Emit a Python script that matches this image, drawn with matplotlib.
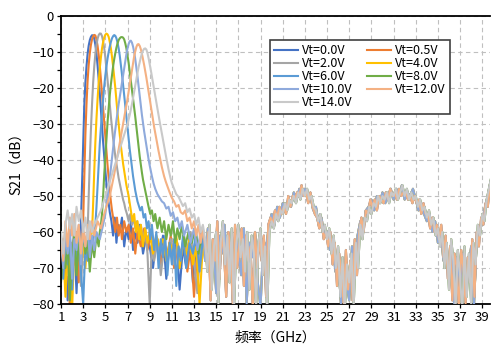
import numpy as np
import matplotlib
matplotlib.use('Agg')
import matplotlib.pyplot as plt
from matplotlib.ticker import MultipleLocator

plt.rcParams['font.family'] = ['Noto Sans CJK SC', 'DejaVu Sans']

# ---- data: (frequency GHz, S21 dB) ----
vt00 = [(1.0,-64),(1.2,-72),(1.4,-61),(1.6,-79),(1.8,-66),(2.0,-70),(2.2,-62),(2.4,-77),(2.6,-63),(2.7,-68),
        (2.8,-57),(2.9,-45),(3.0,-34),(3.1,-25),(3.2,-18.5),(3.3,-14),(3.4,-10.5),(3.5,-8.2),(3.6,-6.7),(3.7,-5.8),
        (3.8,-5.35),(3.9,-5.4),(4.0,-6.3),(4.1,-8),(4.2,-10.5),(4.3,-13.8),(4.4,-17.5),(4.5,-21.5),(4.6,-26),(4.7,-30.5),
        (4.8,-35),(4.9,-39),(5.0,-43),(5.1,-46.5),(5.2,-50),(5.3,-52),(5.4,-54.5),(5.55,-57),(5.7,-61),(5.85,-56),
        (6.0,-63),(6.15,-58),(6.3,-60),(6.5,-56),(6.7,-64),(6.9,-59),(7.1,-62),(7.3,-57),(7.5,-65),(7.7,-60),
        (7.9,-63),(8.1,-58),(8.4,-66),(8.7,-61),(9.0,-64),(9.3,-70),(9.6,-62),(9.9,-67),(10.2,-61),(10.5,-73),
        (10.8,-63),(11.1,-68),(11.4,-62),(11.7,-76),(12.0,-64),(12.3,-70),(12.6,-61),(12.9,-74),(13.2,-63),(13.5,-68),
        (13.8,-60)]
vt05 = [(1.0,-70),(1.2,-62),(1.4,-76),(1.6,-65),(1.8,-81),(2.0,-63),(2.2,-69),(2.4,-60),(2.6,-74),(2.8,-64),
        (2.9,-67),(3.0,-57),(3.1,-45),(3.2,-33),(3.3,-24.5),(3.4,-18),(3.5,-13.5),(3.6,-10.3),(3.7,-8),(3.8,-6.5),
        (3.9,-5.6),(4.0,-5.25),(4.1,-5.4),(4.2,-6.5),(4.3,-8.3),(4.4,-10.8),(4.5,-13.8),(4.6,-17.5),(4.7,-21.5),(4.8,-25.5),
        (4.9,-29.5),(5.0,-33.5),(5.1,-37.5),(5.2,-41.5),(5.3,-45),(5.4,-48.5),(5.5,-51.5),(5.6,-54),(5.75,-57),(5.9,-60),
        (6.05,-56),(6.2,-61),(6.35,-58),(6.5,-62),(6.7,-57),(6.9,-60),(7.1,-58),(7.3,-63),(7.5,-59),(7.7,-66),
        (7.9,-60),(8.2,-64),(8.5,-59),(8.8,-65),(9.1,-61),(9.4,-67),(9.7,-62),(10.0,-69),(10.3,-63),(10.6,-66),
        (10.9,-61),(11.2,-70),(11.5,-64),(11.8,-67),(12.1,-62),(12.4,-71),(12.7,-64),(13.0,-78),(13.3,-65),(13.6,-69),
        (13.9,-61)]
vt20 = [(1.0,-61),(1.2,-67),(1.4,-59),(1.6,-72),(1.8,-62),(2.0,-66),(2.2,-58),(2.4,-70),(2.6,-61),(2.8,-75),
        (3.0,-63),(3.2,-66),(3.3,-62),(3.4,-60),(3.5,-50),(3.6,-40),(3.7,-31.5),(3.8,-24.5),(3.9,-18.5),(4.0,-14),
        (4.1,-10.5),(4.2,-8),(4.3,-6.3),(4.4,-5.3),(4.5,-4.85),(4.6,-4.9),(4.7,-5.6),(4.8,-7),(4.9,-9),(5.0,-11.5),
        (5.1,-14.5),(5.2,-17.8),(5.3,-21),(5.4,-24.5),(5.5,-28),(5.6,-31),(5.7,-34),(5.8,-36.5),(5.9,-39),(6.0,-41),
        (6.1,-43),(6.2,-45),(6.3,-46.5),(6.4,-48),(6.5,-49.5),(6.6,-51),(6.7,-52),(6.8,-53.5),(6.95,-55),(7.1,-57),
        (7.25,-55),(7.4,-58),(7.55,-56),(7.7,-59),(7.85,-57),(8.0,-60),(8.2,-58),(8.4,-62),(8.6,-59),(8.8,-66),
        (9.0,-80),(9.2,-63),(9.4,-68),(9.7,-62),(10.0,-72),(10.3,-64),(10.6,-67),(10.9,-62),(11.2,-69),(11.5,-63),
        (11.8,-66),(12.1,-61),(12.4,-65),(12.7,-60),(13.0,-68),(13.3,-77),(13.6,-64),(13.9,-66)]
vt40 = [(1.0,-72),(1.2,-64),(1.4,-78),(1.6,-66),(1.8,-71),(2.0,-82),(2.2,-63),(2.4,-69),(2.6,-60),(2.8,-67),
        (3.0,-61),(3.2,-70),(3.4,-62),(3.6,-65),(3.7,-61),(3.8,-60),(3.9,-52),(4.0,-43),(4.1,-35),(4.2,-28.5),
        (4.3,-23),(4.4,-18.5),(4.5,-14.5),(4.6,-11.5),(4.7,-9),(4.8,-7.2),(4.9,-6),(5.0,-5.2),(5.1,-4.9),(5.2,-5.1),
        (5.3,-5.8),(5.4,-7.2),(5.5,-9),(5.6,-11.3),(5.7,-14),(5.8,-17),(5.9,-20),(6.0,-23.5),(6.1,-27),(6.2,-30),
        (6.3,-33),(6.4,-36),(6.5,-38.5),(6.6,-41),(6.7,-43),(6.8,-45),(6.9,-47),(7.0,-48.5),(7.1,-50),(7.2,-52),
        (7.3,-54),(7.45,-57),(7.6,-55),(7.75,-60),(7.9,-57),(8.05,-62),(8.2,-58),(8.4,-64),(8.6,-59),(8.8,-63),
        (9.0,-60),(9.3,-66),(9.6,-61),(9.9,-64),(10.2,-62),(10.5,-68),(10.8,-63),(11.1,-65),(11.4,-61),(11.7,-70),
        (12.0,-63),(12.3,-66),(12.6,-62),(12.9,-69),(13.2,-64),(13.5,-80),(13.8,-63)]
vt60 = [(1.0,-66),(1.2,-73),(1.4,-63),(1.6,-69),(1.8,-61),(2.0,-76),(2.2,-64),(2.4,-67),(2.6,-60),(2.8,-71),
        (3.0,-80),(3.2,-64),(3.4,-68),(3.6,-61),(3.8,-65),(4.0,-60),(4.1,-58),(4.2,-53),(4.3,-47),(4.4,-41),
        (4.5,-35.5),(4.6,-31),(4.7,-27),(4.8,-23),(4.9,-19.5),(5.0,-16.5),(5.1,-14),(5.2,-11.8),(5.3,-10),(5.4,-8.5),
        (5.5,-7.2),(5.6,-6.2),(5.7,-5.6),(5.8,-5.3),(5.9,-5.5),(6.0,-6.2),(6.1,-7.4),(6.2,-9),(6.3,-11),(6.4,-13.5),
        (6.5,-16.2),(6.6,-19),(6.7,-22),(6.8,-25),(6.9,-28),(7.0,-31),(7.1,-34),(7.2,-37),(7.3,-39.5),(7.4,-42),
        (7.5,-44.5),(7.6,-46.5),(7.7,-48.5),(7.8,-50),(7.9,-51.5),(8.0,-52.5),(8.15,-54),(8.3,-53),(8.45,-56),(8.6,-55),
        (8.75,-59),(8.9,-57),(9.05,-62),(9.2,-58),(9.4,-65),(9.6,-60),(9.8,-70),(10.0,-62),(10.2,-67),(10.4,-61),
        (10.6,-72),(10.8,-63),(11.0,-69),(11.2,-62),(11.4,-75),(11.6,-64),(11.8,-68),(12.0,-61),(12.3,-70),(12.6,-63),
        (12.9,-66),(13.2,-60),(13.5,-71),(13.8,-62)]
vt80 = [(1.0,-74),(1.2,-65),(1.4,-70),(1.6,-62),(1.8,-79),(2.0,-66),(2.2,-61),(2.4,-72),(2.6,-63),(2.8,-68),
        (3.0,-60),(3.2,-66),(3.4,-62),(3.6,-71),(3.8,-63),(4.0,-67),(4.2,-61),(4.4,-64),(4.5,-60),(4.6,-58),
        (4.7,-55),(4.8,-50),(4.9,-44),(5.0,-39),(5.1,-34),(5.2,-29.5),(5.3,-25.5),(5.4,-22),(5.5,-19),(5.6,-16.5),
        (5.7,-14),(5.8,-12),(5.9,-10.3),(6.0,-8.8),(6.1,-7.6),(6.2,-6.7),(6.3,-6.2),(6.4,-5.9),(6.5,-5.85),(6.6,-6),
        (6.7,-6.5),(6.8,-7.6),(6.9,-9),(7.0,-11),(7.1,-13),(7.2,-15.5),(7.3,-18),(7.4,-20.5),(7.5,-23),(7.6,-25.5),
        (7.7,-28),(7.8,-30.8),(7.9,-33.5),(8.0,-36.3),(8.1,-39),(8.2,-41.3),(8.3,-43.5),(8.4,-45.5),(8.5,-47),(8.6,-48.5),
        (8.7,-50),(8.8,-51.5),(8.9,-53),(9.05,-55),(9.2,-54),(9.35,-57),(9.5,-55),(9.7,-59),(9.9,-56),(10.1,-60),
        (10.3,-57),(10.5,-62),(10.7,-58),(10.9,-61),(11.1,-57),(11.3,-63),(11.5,-59),(11.7,-62),(11.9,-58),(12.2,-64),
        (12.5,-60),(12.8,-63),(13.1,-59),(13.4,-66),(13.7,-61)]
vt100 = [(1.0,-63),(1.2,-70),(1.4,-61),(1.6,-66),(1.8,-59),(2.0,-73),(2.2,-62),(2.4,-65),(2.6,-58),(2.8,-69),
         (3.0,-60),(3.2,-64),(3.4,-59),(3.6,-67),(3.8,-61),(4.0,-65),(4.2,-60),(4.5,-62),(4.8,-58),(5.0,-55),
         (5.2,-50),(5.4,-45),(5.6,-39.5),(5.8,-34),(6.0,-29),(6.2,-24.5),(6.4,-20.5),(6.6,-16.5),(6.7,-14.5),(6.8,-12.5),
         (6.9,-10.6),(7.0,-9),(7.1,-7.8),(7.2,-7),(7.3,-6.85),(7.4,-7.4),(7.5,-8.5),(7.6,-10),(7.7,-12),(7.8,-14.3),
         (7.9,-16.8),(8.0,-19.5),(8.1,-22.2),(8.2,-25),(8.3,-27.5),(8.4,-29.8),(8.5,-32),(8.6,-34),(8.7,-36),(8.8,-38),
         (8.9,-39.8),(9.0,-41.5),(9.1,-43),(9.2,-44.5),(9.35,-46.5),(9.5,-48),(9.7,-49.5),(9.9,-50.5),(10.1,-51.5),(10.3,-52),
         (10.5,-53.5),(10.7,-53),(10.9,-55.5),(11.1,-54.5),(11.3,-57),(11.5,-56),(11.7,-59),(11.9,-57),(12.1,-61),(12.4,-58),
         (12.7,-63),(13.0,-59),(13.3,-65),(13.6,-60),(13.9,-62)]
vt120 = [(1.0,-62),(1.2,-68),(1.4,-57),(1.6,-64),(1.8,-56),(2.0,-61),(2.2,-55),(2.4,-63),(2.6,-58),(2.8,-66),
         (3.0,-59),(3.2,-64),(3.4,-58),(3.6,-62),(3.8,-57),(4.0,-61),(4.3,-57),(4.6,-59),(4.9,-55),(5.2,-52),
         (5.4,-50),(5.6,-47),(5.8,-44),(6.0,-40.5),(6.2,-37),(6.4,-33.5),(6.6,-30),(6.8,-26.5),(7.0,-23),(7.1,-21),
         (7.2,-19),(7.3,-17),(7.4,-15),(7.5,-13),(7.6,-11.2),(7.7,-9.8),(7.8,-8.6),(7.9,-7.9),(8.0,-7.8),(8.1,-8.3),
         (8.2,-9.2),(8.3,-10.5),(8.4,-12),(8.5,-13.6),(8.6,-15.3),(8.7,-17.1),(8.8,-19),(8.9,-21),(9.0,-23),(9.1,-25),
         (9.2,-27),(9.3,-29),(9.4,-30.8),(9.5,-32.5),(9.6,-34.3),(9.7,-36),(9.8,-37.5),(9.9,-39),(10.0,-40.5),(10.1,-42),
         (10.2,-43.3),(10.3,-44.5),(10.45,-46),(10.6,-47.3),(10.8,-49),(11.0,-50.5),(11.2,-51.5),(11.4,-53),(11.6,-52.5),(11.8,-54.5),
         (12.0,-55),(12.2,-54),(12.4,-57),(12.6,-56),(12.8,-59),(13.0,-57),(13.2,-61),(13.4,-58),(13.6,-63),(13.8,-59)]
vt140 = [(1.0,-60),(1.2,-66),(1.4,-58),(1.6,-54),(1.8,-59),(2.0,-55),(2.2,-61),(2.4,-53),(2.6,-57),(2.8,-54),
         (3.0,-60),(3.2,-56),(3.4,-62),(3.6,-57),(3.8,-60),(4.0,-58),(4.3,-56),(4.6,-54),(4.9,-51),(5.2,-48),
         (5.5,-45),(5.8,-42),(6.1,-39),(6.4,-36),(6.7,-33),(7.0,-30),(7.2,-27.5),(7.4,-24.5),(7.6,-21),(7.8,-17.5),
         (7.9,-15.8),(8.0,-14.2),(8.1,-12.8),(8.2,-11.5),(8.3,-10.4),(8.4,-9.6),(8.5,-9.1),(8.6,-9),(8.7,-9.3),(8.8,-10.3),
         (8.9,-11.7),(9.0,-13.3),(9.1,-15),(9.2,-16.8),(9.3,-18.6),(9.4,-20.4),(9.5,-22.2),(9.6,-24),(9.7,-25.8),(9.8,-27.6),
         (9.9,-29.3),(10.0,-31),(10.1,-32.7),(10.2,-34.4),(10.3,-36.1),(10.4,-37.8),(10.5,-39.4),(10.6,-41),(10.7,-42.6),(10.8,-44),
         (10.9,-45.3),(11.0,-46.4),(11.2,-48),(11.4,-49.5),(11.6,-50.2),(11.8,-51.5),(12.0,-52.8),(12.2,-52),(12.4,-54.5),(12.6,-53.5),
         (12.8,-56),(13.0,-55),(13.2,-58),(13.4,-56),(13.6,-60),(13.8,-58)]

# high-frequency floor, where all the bias voltages overlap (above ~14 GHz)
tail_a = [-62, -71, -58, -76, -64,  -60, -80, -63, -57, -69,  -61, -74, -59, -82, -64,
          -58, -67, -62, -71, -60,  -76, -61, -66, -81, -63,  -59, -72, -64, -83, -60,
          -57, -59, -55, -57, -54,  -55, -52, -54, -51, -52,  -50, -52, -49, -51, -48,
          -50, -48, -51, -50, -53,  -54, -57, -55, -60, -58,  -62, -59, -66, -61, -70,
          -64, -78, -67, -82, -69,  -74, -66, -81, -63, -70,  -58, -62, -56, -57, -53,
          -55, -52, -53, -50, -52,  -50, -51, -49, -52, -49,  -50, -48, -51, -49, -47,
          -50, -48, -51, -49, -51,  -50, -53, -51, -54, -53,  -56, -54, -58, -56, -61,
          -59, -64, -60, -70, -63,  -76, -62, -68, -81, -65,  -72, -83, -64, -78, -66,
          -80, -63, -69, -58, -61,  -55, -57, -51, -48, -45]
tail_b = [-66, -60, -79, -62, -68,  -57, -73, -61, -65, -78,  -60, -66, -80, -58, -70,
          -63, -59, -75, -61, -68,  -64, -82, -60, -70, -62,  -68, -61, -78, -58, -56,
          -58, -54, -56, -53, -55,  -53, -55, -50, -53, -50,  -51, -49, -50, -47, -50,
          -49, -52, -49, -53, -55,  -56, -59, -57, -62, -60,  -64, -60, -69, -63, -75,
          -66, -72, -80, -65, -76,  -68, -79, -62, -72, -60,  -56, -60, -54, -55, -51,
          -53, -51, -54, -50, -51,  -52, -49, -51, -48, -50,  -49, -51, -48, -50, -49,
          -49, -51, -50, -52, -50,  -52, -51, -55, -52, -55,  -55, -59, -56, -60, -58,
          -62, -58, -67, -61, -73,  -64, -79, -66, -70, -82,  -65, -70, -80, -67, -74,
          -62, -78, -60, -64, -56,  -58, -52, -53, -47]
tail_c = [-68, -59, -73, -63,  -77, -61, -66, -58,  -70, -63, -79, -61,  -65, -72, -59, -80,
          -63, -67, -60, -74,  -81, -62, -65, -58,  -55, -58, -53, -56,  -52, -54, -51, -53,
          -49, -51, -48, -50,  -48, -51, -50, -54,  -53, -58, -56, -61,  -60, -65, -62, -71,
          -67, -80, -69, -74,  -79, -64, -73, -61,  -57, -60, -54, -53,  -51, -54, -50, -52,
          -49, -52, -50, -48,  -51, -48, -50, -47,  -51, -49, -50, -48,  -51, -54, -52, -55,
          -57, -55, -60, -57,  -63, -60, -68, -65,  -72, -64, -82, -67,  -75, -66, -79, -70,
          -64, -81, -62, -59,  -57, -53, -50, -46]
tail_a_freq = np.round(14.0 + 0.2 * np.arange(len(tail_a)), 2)
tail_b_freq = np.round(14.1 + 0.2 * np.arange(len(tail_b)), 2)
tail_c_freq = np.round(14.0 + 0.25 * np.arange(len(tail_c)), 2)

series = [vt00, vt05, vt20, vt40, vt60, vt80, vt100, vt120, vt140]
labels = ['Vt=0.0V', 'Vt=0.5V', 'Vt=2.0V', 'Vt=4.0V', 'Vt=6.0V',
          'Vt=8.0V', 'Vt=10.0V', 'Vt=12.0V', 'Vt=14.0V']
colors = ['#4472C4', '#ED7D31', '#A5A5A5', '#FFC000', '#5B9BD5',
          '#70AD47', '#8FAADC', '#F4B183', '#C9C9C9']
tails = [(tail_c_freq, tail_c), (tail_b_freq, tail_b), (tail_a_freq, tail_a)]

fig = plt.figure(figsize=(4.91, 3.47), dpi=100)
ax = fig.add_axes([61 / 491, 1 - 304 / 347, 429 / 491, 288 / 347])

handles = []
for i, (pts, lab, col) in enumerate(zip(series, labels, colors)):
    tf, ts = tails[i % 3]
    f = [p[0] for p in pts] + list(tf)
    s = [p[1] for p in pts] + list(ts)
    line, = ax.plot(f, s, color=col, lw=1.5, label=lab, zorder=2 + i * 0.1)
    handles.append(line)

ax.set_xlim(1, 39.7)
ax.set_ylim(-80, 0)
ax.set_xticks(range(1, 40, 2))
ax.set_yticks(range(-80, 1, 10))
ax.yaxis.set_minor_locator(MultipleLocator(5))
ax.grid(True, which='major', color='#BFBFBF', linestyle=(0, (4, 3)), lw=0.8)
ax.set_axisbelow(True)

for side in ['left', 'bottom', 'top']:
    ax.spines[side].set_linewidth(1.3)
    ax.spines[side].set_color('black')
ax.spines['right'].set_visible(False)
ax.tick_params(axis='both', which='both', direction='out', length=3, width=0.9,
               labelsize=9.5, pad=2)
ax.tick_params(axis='x', top=False)

ax.set_xlabel('频率（GHz）', fontsize=10, labelpad=5)
ax.set_ylabel('S21（dB）', fontsize=10, labelpad=6)

# legend is filled row by row in the reference: reorder for matplotlib's column fill
order = [0, 2, 4, 6, 8, 1, 3, 5, 7]
leg = ax.legend([handles[k] for k in order], [labels[k] for k in order],
                loc='upper left', bbox_to_anchor=(0.487, 0.917), ncol=2,
                fontsize=9, frameon=True, fancybox=False, borderpad=0.35,
                labelspacing=0.0, handlelength=1.9, handletextpad=0.35,
                columnspacing=1.1, borderaxespad=0)
leg.get_frame().set_edgecolor('#404040')
leg.get_frame().set_linewidth(1.2)
leg.get_frame().set_alpha(1)

fig.savefig('out.png', dpi=100)
